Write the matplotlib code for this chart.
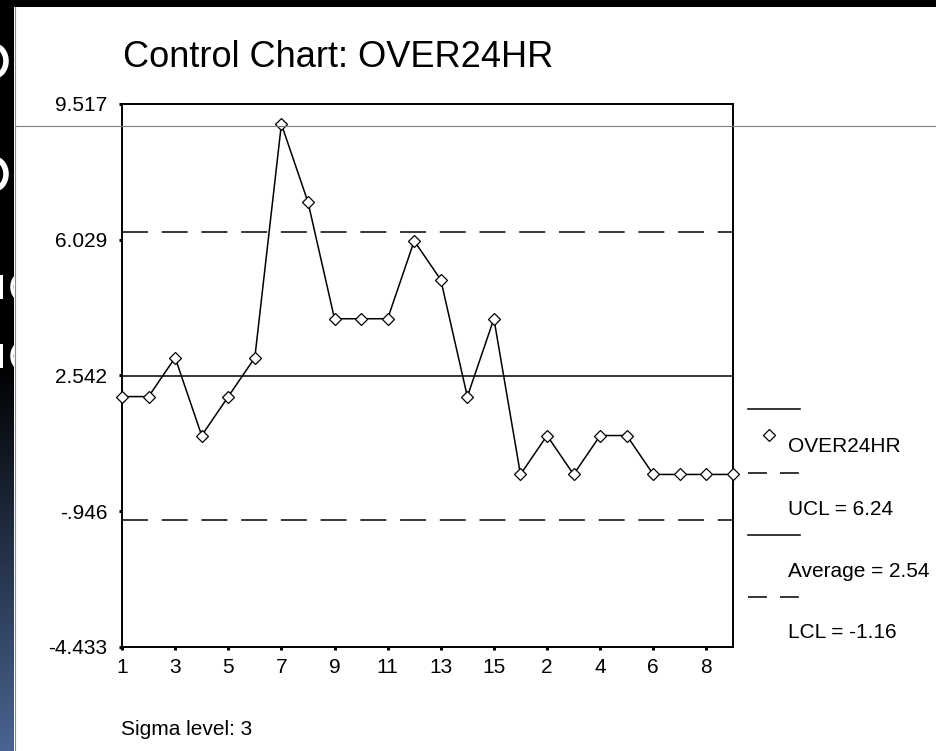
import numpy as np
import matplotlib.pyplot as plt
from matplotlib.patches import Rectangle, Ellipse

plt.rcParams['font.family'] = ['Liberation Sans', 'DejaVu Sans']

# values
sample_labels = ['1', '2', '3', '4', '5', '6', '7', '8', '9', '10', '11', '12', '13', '14', '15',
                 '1', '2', '3', '4', '5', '6', '7', '8', '9']
over24hr = [2, 2, 3, 1, 2, 3, 9, 7, 4, 4, 4, 6, 5, 2, 4, 0, 1, 0, 1, 1, 0, 0, 0, 0]
ucl = 6.24
average = 2.54
lcl = -1.16
y_ticks = [9.517, 6.029, 2.542, -0.946, -4.433]
y_tick_labels = ['9.517', '6.029', '2.542', '-.946', '-4.433']

W, H = 936, 751
fig = plt.figure(figsize=(W / 100, H / 100), dpi=100)

# main chart
ax = fig.add_axes([122 / W, 1 - 647 / H, (733 - 122) / W, (647 - 104) / H])
x = np.arange(1, len(over24hr) + 1)
ax.axhline(ucl, color='black', lw=1.1, dashes=(17, 9))
ax.axhline(average, color='black', lw=1.1)
ax.axhline(lcl, color='black', lw=1.1, dashes=(17, 9))
ax.plot(x, over24hr, color='black', lw=1.1, marker='D', ms=6, mfc='white',
        mec='black', mew=0.9, clip_on=False, zorder=5)
ax.set_xlim(1, len(x))
ax.set_ylim(y_ticks[-1], y_ticks[0])
ax.set_yticks(y_ticks, y_tick_labels)
ax.set_xticks(x[::2], sample_labels[::2])
ax.tick_params(direction='out', length=2.2, width=2.2, labelsize=15)
ax.tick_params(axis='y', pad=8.5)
ax.tick_params(axis='x', pad=5.5)
for s in ax.spines.values():
    s.set_linewidth(1.4)

# overlay in pixel coordinates for titles, legend and slide background
ov = fig.add_axes([0, 0, 1, 1], zorder=10)
ov.set_xlim(0, W)
ov.set_ylim(H, 0)
ov.axis('off')
ov.patch.set_visible(False)

ov.text(123, 67, 'Control Chart: OVER24HR', fontsize=26, va='baseline', ha='left')
ov.text(121, 735, 'Sigma level: 3', fontsize=15, va='baseline', ha='left')

# legend
dash_l = (12.4, 8.5)
ov.plot([748, 800], [409, 409], color='black', lw=1.1)
ov.plot([769], [435], marker='D', ms=6, mfc='white', mec='black', mew=0.9, color='black')
ov.text(788, 452, 'OVER24HR', fontsize=15, va='baseline')
ov.plot([748, 800], [473, 473], color='black', lw=1.1, dashes=dash_l)
ov.text(788, 515, 'UCL = 6.24', fontsize=15, va='baseline')
ov.plot([748, 800], [535, 535], color='black', lw=1.1)
ov.text(788, 577, 'Average = 2.54', fontsize=15, va='baseline', clip_on=True)
ov.plot([748, 800], [597, 597], color='black', lw=1.1, dashes=dash_l)
ov.text(788, 638, 'LCL = -1.16', fontsize=15, va='baseline')

# slide frame: top black bar, thin grey rule
ov.add_patch(Rectangle((0, 0), W, 7, color='black', lw=0))
ov.plot([15, W], [126, 126], color='#808080', lw=0.8)
ov.plot([14.5, 14.5], [7, H], color='#8a8a8a', lw=0.8)

# left strip with gradient and clipped letters
strip = fig.add_axes([0, 0, 14 / W, 1], zorder=11)
strip.set_xlim(0, 14)
strip.set_ylim(H, 0)
strip.axis('off')
t = np.clip((np.arange(H) - 360) / (H - 360), 0, 1)
top = np.array([0, 0, 0])
bot = np.array([74, 101, 146]) / 255
grad = top[None, :] * (1 - t[:, None]) + bot[None, :] * t[:, None]
strip.imshow(grad[:, None, :], extent=(0, 14, H, 0), aspect='auto')
for cy in [61, 174]:
    strip.add_patch(Ellipse((-6, cy), 24, 30, fill=False, ec='white', lw=4))
for cy in [287, 356]:
    strip.add_patch(Rectangle((0, cy - 12), 3, 24, color='white', lw=0))
    strip.add_patch(Ellipse((22, cy), 20, 26, fill=False, ec='white', lw=2.5))
strip.set_xlim(0, 14)
strip.set_ylim(H, 0)

fig.savefig('out.png', dpi=100)
